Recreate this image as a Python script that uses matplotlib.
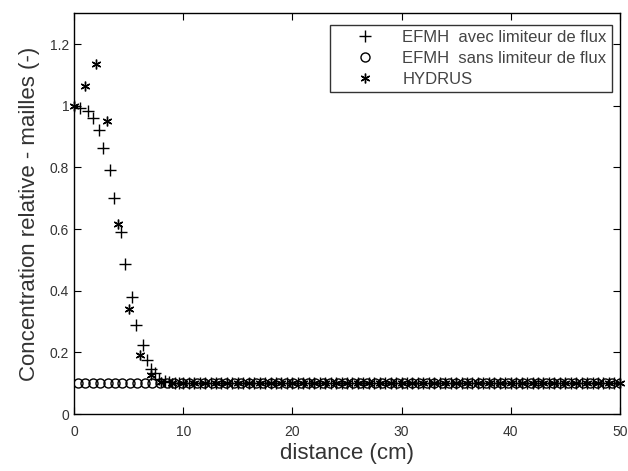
import numpy as np
import matplotlib
matplotlib.use("Agg")
import matplotlib.pyplot as plt

# -----------------------------
# Data
# -----------------------------
# EFMH avec limiteur de flux: front part, then flat tail at 0.1
efmh_lim_x_front = [0.0, 0.55, 1.28, 1.74, 2.29, 2.66, 3.3, 3.66, 4.3, 4.7,
                    5.31, 5.68, 6.35, 6.65, 7.0, 7.42, 7.8, 8.3, 8.7, 9.2, 9.6]
efmh_lim_y_front = [1.0, 0.993, 0.983, 0.96, 0.92, 0.863, 0.79, 0.70, 0.59, 0.487,
                    0.38, 0.29, 0.223, 0.175, 0.145, 0.134, 0.115, 0.107, 0.103, 0.101, 0.1]
efmh_lim_x_tail = np.arange(10.0, 50.01, 0.5)
efmh_lim_y_tail = [0.1] * len(efmh_lim_x_tail)

# EFMH sans limiteur de flux: flat at 0.1 over the whole column
efmh_sans_x = np.arange(0.35, 50.01, 0.68)
efmh_sans_y = [0.1] * len(efmh_sans_x)

# HYDRUS: one point per cm
hydrus_x = np.arange(0, 51, 1)
hydrus_y_front = [1.0, 1.064, 1.134, 0.95, 0.615, 0.342, 0.19, 0.126, 0.105]
hydrus_y = hydrus_y_front + [0.1] * (len(hydrus_x) - len(hydrus_y_front))

# -----------------------------
# Plot
# -----------------------------
plt.rcParams["font.family"] = ["Liberation Sans", "DejaVu Sans"]

fig = plt.figure(figsize=(6.28, 4.71), dpi=100)
ax = fig.add_axes([0.118, 0.121, 0.869, 0.851])

ax.plot(list(efmh_lim_x_front) + list(efmh_lim_x_tail),
        efmh_lim_y_front + efmh_lim_y_tail,
        "+", color="black", markersize=8, markeredgewidth=1.0,
        label="EFMH  avec limiteur de flux")
ax.plot(efmh_sans_x, efmh_sans_y, "o", color="black", mfc="none",
        markersize=6.5, markeredgewidth=1.0,
        label="EFMH  sans limiteur de flux")
ax.plot(hydrus_x, hydrus_y, marker=(6, 2, 0), linestyle="none",
        color="black", markersize=7, markeredgewidth=1.0, label="HYDRUS",
        clip_on=False)

ax.set_xlim(0, 50)
ax.set_ylim(0, 1.3)
ax.set_xticks([0, 10, 20, 30, 40, 50])
ax.set_yticks([0, 0.2, 0.4, 0.6, 0.8, 1.0, 1.2])
ax.set_yticklabels(["0", "0.2", "0.4", "0.6", "0.8", "1", "1.2"])
ax.tick_params(direction="in", top=True, right=True, length=5,
               labelsize=10, labelcolor="#333333")
ax.tick_params(axis="x", pad=8)
for s in ax.spines.values():
    s.set_linewidth(1.0)

ax.set_xlabel("distance (cm)", fontsize=16, color="#333333", labelpad=3)
ax.set_ylabel("Concentration relative - mailles (-)", fontsize=16,
              color="#333333", labelpad=7)

leg = ax.legend(loc="upper right", fontsize=12, frameon=True, fancybox=False,
                edgecolor="black", handlelength=3.6, handletextpad=0.45,
                borderpad=0.3, labelspacing=0.35, borderaxespad=0,
                bbox_to_anchor=(0.985, 0.97))
leg.get_frame().set_linewidth(1.0)
for t in leg.get_texts():
    t.set_color("#444444")

fig.savefig("out.png", dpi=100)
